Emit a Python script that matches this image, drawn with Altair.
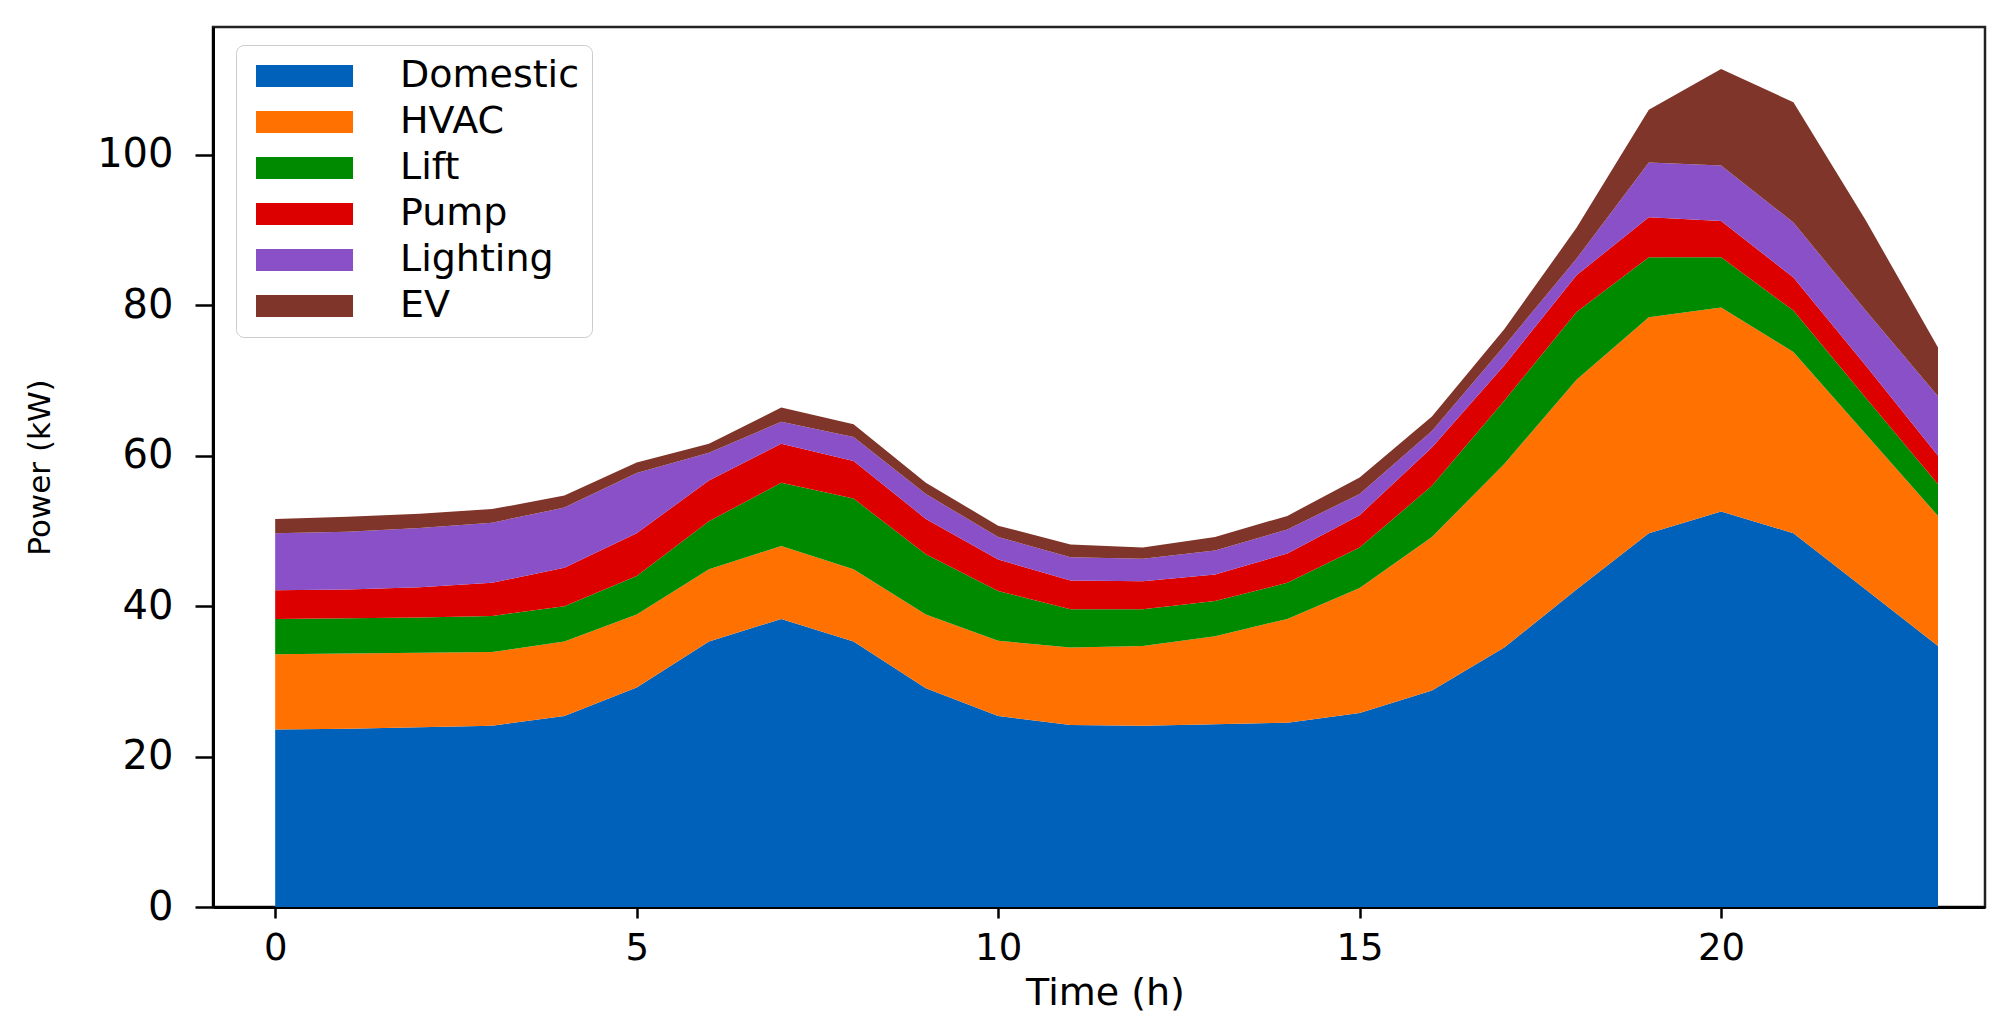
import altair as alt
import pandas as pd

hours = list(range(24))
series = ["Domestic", "HVAC", "Lift", "Pump", "Lighting", "EV"]
colors = ["#0061BA", "#FF7100", "#008A00", "#DD0000", "#8A50C8", "#80352A"]

domestic = [23.6, 23.7, 23.9, 24.1, 25.4, 29.2, 35.3, 38.3, 35.3, 29.1, 25.4, 24.2,
            24.1, 24.3, 24.5, 25.8, 28.8, 34.5, 42.2, 49.7, 52.6, 49.7, 42.2, 34.7]
hvac = [10.0, 10.0, 9.9, 9.8, 9.9, 9.7, 9.6, 9.7, 9.6, 9.8, 10.0, 10.3,
        10.6, 11.7, 13.8, 16.6, 20.4, 24.4, 27.9, 28.7, 27.1, 24.1, 20.7, 17.3]
lift = [4.7, 4.7, 4.7, 4.8, 4.7, 5.1, 6.4, 8.4, 9.4, 8.0, 6.6, 5.1,
        4.9, 4.7, 4.8, 5.4, 6.8, 8.4, 9.0, 8.0, 6.7, 5.5, 4.8, 4.2]
pump = [3.8, 3.8, 4.0, 4.4, 5.1, 5.7, 5.4, 5.2, 5.0, 4.7, 4.2, 3.8,
        3.7, 3.5, 3.9, 4.3, 5.1, 4.7, 4.9, 5.3, 4.8, 4.4, 4.3, 3.8]
lighting = [7.6, 7.7, 7.9, 8.0, 8.0, 8.0, 3.7, 2.9, 3.2, 3.3, 3.0, 3.1,
            3.0, 3.2, 3.2, 2.8, 2.2, 2.6, 2.2, 7.3, 7.4, 7.3, 7.3, 7.9]
ev = [1.9, 2.0, 1.9, 1.8, 1.6, 1.4, 1.2, 1.9, 1.7, 1.5, 1.5, 1.7,
      1.5, 1.8, 1.8, 2.2, 1.9, 2.2, 4.1, 7.0, 12.8, 16.0, 12.0, 6.5]

x_ticks = [0, 5, 10, 15, 20]
y_ticks = [0, 20, 40, 60, 80, 100]

values = [domestic, hvac, lift, pump, lighting, ev]
rows = []
for i, (name, vals) in enumerate(zip(series, values)):
    for h, v in zip(hours, vals):
        rows.append({"Time": h, "Power": v, "Load": name, "idx": i})
df = pd.DataFrame(rows)

FONT = "DejaVu Sans"

chart = alt.Chart(df).mark_area(interpolate="linear", opacity=1, strokeWidth=0).encode(
    x=alt.X("Time:Q",
            scale=alt.Scale(domain=[-0.86, 23.65], nice=False, zero=False),
            axis=alt.Axis(values=x_ticks, title="Time (h)", grid=False,
                          labelFont=FONT, labelFontSize=37, labelColor="black",
                          labelPadding=12, tickSize=11, tickWidth=2.5, tickColor="black",
                          domainColor="black", domainWidth=3,
                          titleFont=FONT, titleFontSize=38, titleFontWeight="normal",
                          titleColor="black", titleX=892, titleY=86,
                          titleBaseline="middle", titleAlign="center")),
    y=alt.Y("Power:Q", stack="zero",
            scale=alt.Scale(domain=[0, 117], nice=False),
            axis=alt.Axis(values=y_ticks, title="Power (kW)", grid=False,
                          labelFont=FONT, labelFontSize=40, labelColor="black",
                          labelPadding=22, tickSize=18, tickWidth=2.5, tickColor="black",
                          domainColor="black", domainWidth=3,
                          titleFont=FONT, titleFontSize=31, titleFontWeight="normal",
                          titleColor="black", titleAngle=270, titleX=-173, titleY=440,
                          titleBaseline="middle", titleAlign="center")),
    color=alt.Color("Load:N",
                    scale=alt.Scale(domain=series, range=colors),
                    legend=alt.Legend(title=None, orient="none", legendX=23, legendY=18,
                                      symbolType="M-1,-1L7.82,-1L7.82,1L-1,1Z",
                                      symbolSize=484, symbolStrokeWidth=0, symbolOpacity=1,
                                      labelFont=FONT, labelFontSize=38, labelColor="black",
                                      labelOffset=114, labelLimit=500,
                                      padding=12, rowPadding=8,
                                      fillColor="white", strokeColor="#cccccc",
                                      cornerRadius=8)),
    order=alt.Order("idx:Q", sort="ascending"),
).properties(
    width=1772, height=880,
    background="white",
    autosize=alt.AutoSizeParams(type="none"),
    padding={"left": 205, "top": 19, "right": 21, "bottom": 119},
).configure_view(
    stroke="#222222", strokeWidth=2.5
)

chart.save("out.html", embed_options={"renderer": "svg", "actions": False})
